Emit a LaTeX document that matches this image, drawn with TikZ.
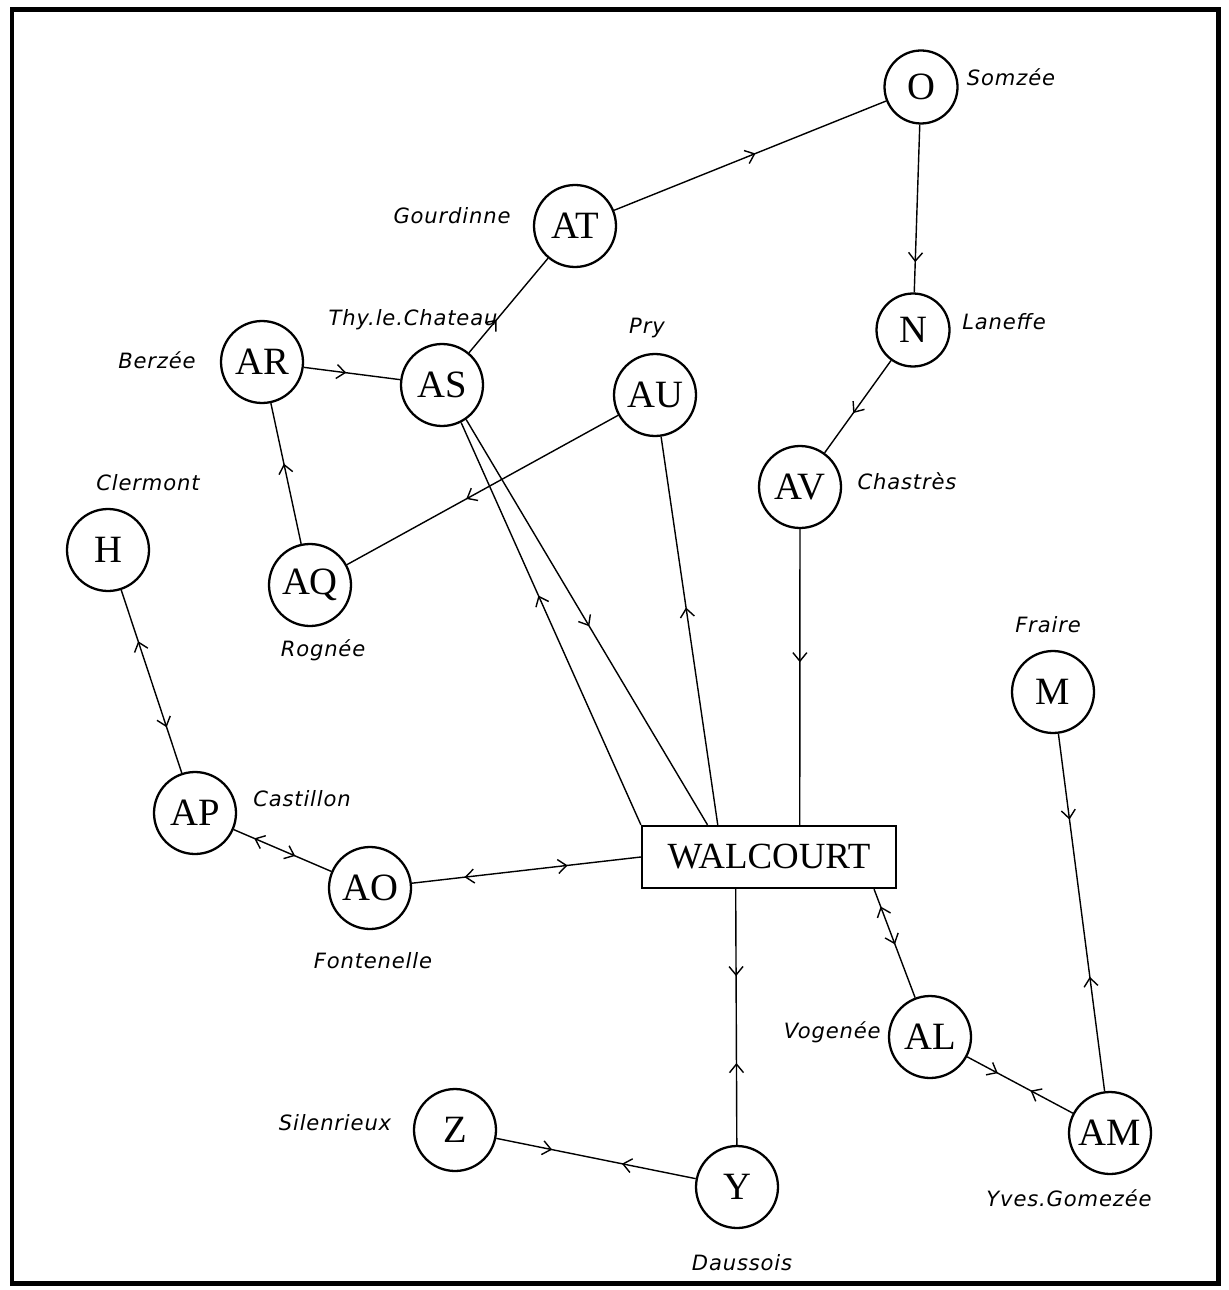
\documentclass[tikz,border=0pt]{standalone}
\usepackage{fontspec}
\newfontfamily\lblfamily[LetterSpace=4]{DejaVu Sans}
\newfontfamily\townfamily{Liberation Serif}
\usetikzlibrary{arrows.meta,decorations.markings,calc}
\tikzset{
  town/.style={circle, draw, line width=1.3pt, minimum size=1.64cm, inner sep=0pt,
    font=\townfamily\fontsize{22}{24}\selectfont},
  smalltown/.style={town, minimum size=1.46cm},
  lbl/.style={font=\lblfamily\itshape\fontsize{12}{14}\selectfont, inner sep=0pt},
  road/.style={line width=0.8pt},
  fwd/.style={postaction={decorate, decoration={markings,
    mark=at position #1 with {\arrow{Straight Barb[length=1.7mm,width=2.8mm]}}}}},
  bwd/.style={postaction={decorate, decoration={markings,
    mark=at position #1 with {\arrowreversed{Straight Barb[length=1.7mm,width=2.8mm]}}}}}
}
\begin{document}
\begin{tikzpicture}[x=0.02cm, y=-0.02cm]
\useasboundingbox (0,0) rectangle (1228,1290);
\draw[line width=0.1cm] (12,10) rectangle (1218,1283);

% towns
\node[smalltown] (O)  at (921,87)   {O};
\node[town]      (AT) at (575,226)  {AT};
\node[town]      (AR) at (262,362)  {AR};
\node[town]      (AS) at (442,385)  {AS};
\node[town]      (AU) at (655,395)  {AU};
\node[smalltown] (N)  at (913,330)  {N};
\node[town]      (AV) at (800,487)  {AV};
\node[town]      (H)  at (108,550)  {H};
\node[town]      (AQ) at (310,585)  {AQ};
\node[town]      (M)  at (1053,692) {M};
\node[town]      (AP) at (195,813)  {AP};
\node[town]      (AO) at (370,888)  {AO};
\node[town]      (AL) at (930,1037) {AL};
\node[town]      (AM) at (1110,1133){AM};
\node[town]      (Z)  at (455,1130) {Z};
\node[town]      (Y)  at (737,1187) {Y};
\node[draw, line width=1.3pt, minimum width=5.08cm, minimum height=1.24cm, inner sep=0pt,
      font=\townfamily\fontsize{21}{24}\selectfont] (W) at (769,857) {WALCOURT};

\coordinate (was) at ($(W.north west)!0.26!(W.north east)$);
\coordinate (wau) at ($(W.north west)!0.30!(W.north east)$);
\coordinate (wav) at ($(W.north west)!0.62!(W.north east)$);
\coordinate (wy)  at ($(W.south west)!0.37!(W.south east)$);
\coordinate (wal) at ($(W.south west)!0.91!(W.south east)$);

% labels
\node[lbl] (lO)  at (1011,77)  {Somzée};
\node[lbl] (lAT) at (452,216)  {Gourdinne};
\node[lbl] (lAR) at (157,360)  {Berzée};
\node[lbl] (lAS) at (413,320)  {Thy.le.Chateau};
\node[lbl] (lAU) at (647,328)  {Pry};
\node[lbl] (lN)  at (1004,322) {Laneffe};
\node[lbl] (lAV) at (907,481)  {Chastrès};
\node[lbl] (lH)  at (148,483)  {Clermont};
\node[lbl] (lAQ) at (323,650)  {Rognée};
\node[lbl] (lM)  at (1048,625) {Fraire};
\node[lbl] (lAP) at (302,799)  {Castillon};
\node[lbl] (lAO) at (373,961)  {Fontenelle};
\node[lbl, anchor=east] (lAL) at (881,1032) {Vogenée};
\node[lbl] (lAM) at (1069,1198){Yves.Gomezée};
\node[lbl] (lZ)  at (335,1123) {Silenrieux};
\node[lbl] (lY)  at (742,1263) {Daussois};

% roads
\draw[road, fwd=0.52] (AT) -- (O);
\draw[road, fwd=0.82] (O) -- (N);
\draw[road, fwd=0.57] (N) -- (AV);
\draw[road, fwd=0.45] (AV) -- (wav);
\draw[road, fwd=0.35] (AS) -- (AT);
\draw[road, fwd=0.44] (AR) -- (AS);
\draw[road, fwd=0.57] (AQ) -- (AR);
\draw[road, fwd=0.56] (AU) -- (AQ);
\draw[road, fwd=0.57] (W.north west) -- (AS.-63);
\draw[road, fwd=0.51] (AS.-55) -- (was);
\draw[road, fwd=0.56] (wau) -- (AU);
\draw[road, bwd=0.23, fwd=0.68] (AO) -- (W.west);
\draw[road, bwd=0.21, fwd=0.63] (AP) -- (AO);
\draw[road, bwd=0.28, fwd=0.75] (H) -- (AP);
\draw[road, fwd=0.34, bwd=0.68] (wy) -- (Y);
\draw[road, bwd=0.16, fwd=0.51] (wal) -- (AL);
\draw[road, fwd=0.29, bwd=0.60] (AL) -- (AM);
\draw[road, fwd=0.24, bwd=0.68] (M) -- (AM);
\draw[road, fwd=0.28, bwd=0.63] (Z) -- (Y);
\end{tikzpicture}
\end{document}
